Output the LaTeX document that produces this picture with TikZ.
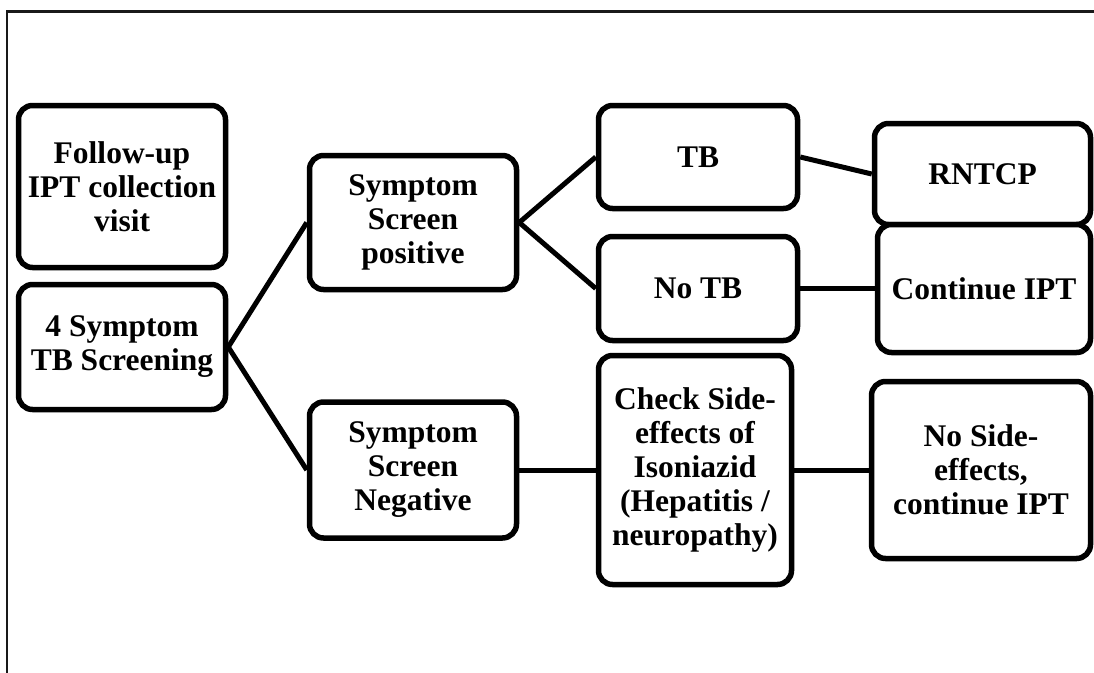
\documentclass[tikz,border=0pt]{standalone}
\usepackage{fontspec}
\setmainfont{Liberation Serif}
\begin{document}
\begin{tikzpicture}[x=1pt,y=-1pt,
  box/.style={draw=black,line width=5.5pt,rounded corners=14pt,align=center,
    inner sep=0pt,font=\bfseries\fontsize{31.5}{34}\selectfont,fill=white},
  link/.style={draw=black,line width=5pt}]
\clip (0,0) rectangle (1094,672);
\draw[line width=2.8pt,black!90] (7,700) -- (7,11.5) -- (1120,11.5);
\node[box,minimum width=207pt,minimum height=162pt] (fu) at (122,186.5) {Follow-up\\IPT collection\\visit};
\node[box,minimum width=207pt,minimum height=125pt] (fs) at (122,347) {4 Symptom\\TB Screening};
\node[box,minimum width=207pt,minimum height=134pt] (ssp) at (413,222.5) {Symptom\\Screen\\positive};
\node[box,minimum width=207pt,minimum height=136pt] (ssn) at (413,470) {Symptom\\Screen\\Negative};
\node[box,minimum width=199pt,minimum height=103pt] (tb) at (698,157) {TB};
\node[box,minimum width=199pt,minimum height=104pt] (ntb) at (698,288.5) {No TB};
\node[box,minimum width=193pt,minimum height=229pt] (chk) at (695,470) {Check Side-\\effects of\\Isoniazid\\(Hepatitis /\\neuropathy)};
\node[box,minimum width=216pt,minimum height=101pt] (rn) at (982.5,174) {RNTCP};
\node[box,minimum width=213pt,minimum height=128pt] (ci) at (984,288.5) {Continue IPT};
\node[box,minimum width=219pt,minimum height=177pt] (ns) at (981,470) {No Side-\\effects,\\continue IPT};
\draw[link] (fs.east) -- (ssp.west);
\draw[link] (fs.east) -- (ssn.west);
\draw[link] (ssp.east) -- (tb.west);
\draw[link] (ssp.east) -- (ntb.west);
\draw[link] (tb.east) -- (rn.west);
\draw[link] (ntb.east) -- (ci.west);
\draw[link] (ssn.east) -- (chk.west);
\draw[link] (chk.east) -- (ns.west);
\end{tikzpicture}
\end{document}
